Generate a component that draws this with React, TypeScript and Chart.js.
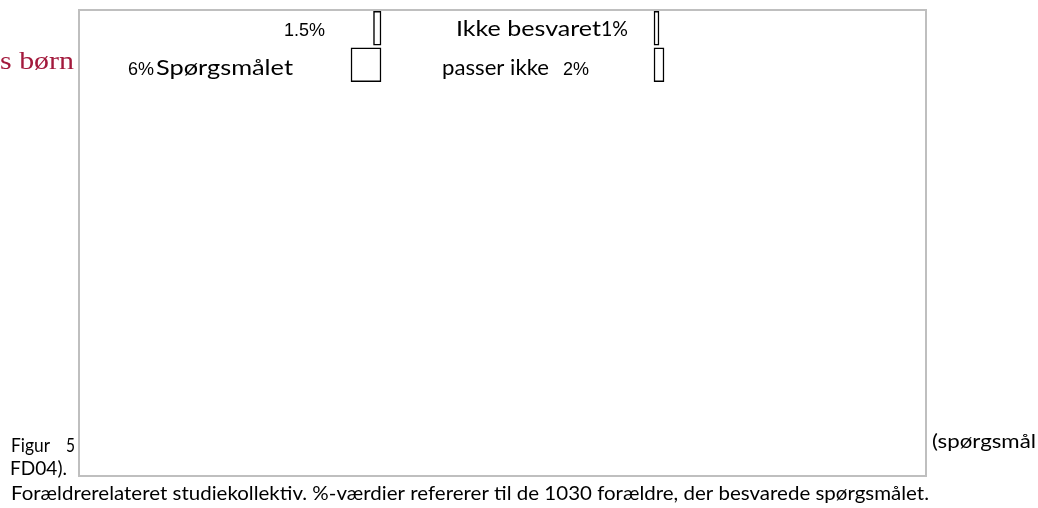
import React, { useEffect, useRef } from 'react';
import { Chart, registerables } from 'chart.js';

Chart.register(...registerables);

// ---- data ----
const rowNames = ['Ikke besvaret', 'Spørgsmålet passer ikke'];
const leftValues = [1.5, 6];               // % (left group)
const rightValues = [1, 2];                // % (right group)
const leftAnchor = 60.2;                   // value-axis position where the left group ends
const rightAnchor = 114.8;                 // value-axis position where the right group starts
const row1Name = 'Ikke besvaret';
const row2NameA = 'Spørgsmålet';
const row2NameB = 'passer ikke';
const sideText = 's børn';
const figLabel = 'Figur';
const figNumber = '5';
const figTail = '(spørgsmål';
const figRef = 'FD04).';
const caption = 'Forældrerelateret studiekollektiv. %-værdier refererer til de 1030 forældre, der besvarede spørgsmålet.';

const pct = (v: number) => `${v}%`;

// ---- styles / layout ----
const W = 1038;
const H = 508;
const CAL = '"Lato", "Noto Sans", sans-serif';
const ARIAL = '"Liberation Sans", Arial, sans-serif';
const SERIF = '"Liberation Serif", "DejaVu Serif", serif';
const PX_PER_UNIT = 5;

type TextItem = { text: string; x: number; y: number; font: string; w?: number; color?: string };

const textItems = (): TextItem[] => [
  { text: pct(leftValues[0]), x: 284, y: 36, font: `18px ${ARIAL}` },
  { text: pct(leftValues[1]), x: 128, y: 75, font: `18px ${ARIAL}` },
  { text: row2NameA, x: 156, y: 75, w: 137, font: `22px ${CAL}` },
  { text: row1Name, x: 456, y: 36, w: 145, font: `22px ${CAL}` },
  { text: pct(rightValues[0]), x: 601, y: 36, w: 27, font: `22px ${CAL}` },
  { text: row2NameB, x: 442, y: 75, w: 107, font: `22px ${CAL}` },
  { text: pct(rightValues[1]), x: 563, y: 75, font: `18px ${ARIAL}` },
  { text: sideText, x: 0, y: 69, w: 74, font: `26px ${SERIF}`, color: '#a3193c' },
  { text: figLabel, x: 11, y: 452, w: 39, font: `20px ${CAL}` },
  { text: figNumber, x: 66, y: 452, w: 9, font: `20px ${CAL}` },
  { text: figRef, x: 10, y: 475, w: 57, font: `20px ${CAL}` },
  { text: figTail, x: 932, y: 448, w: 104, font: `20px ${CAL}` },
  { text: caption, x: 11, y: 500, w: 918, font: `20px ${CAL}` },
];

const overlayPlugin = {
  id: 'overlay',
  beforeDraw(chart: any) {
    const ctx = chart.ctx;
    ctx.save();
    ctx.fillStyle = '#ffffff';
    ctx.fillRect(0, 0, chart.width, chart.height);
    ctx.strokeStyle = '#bfbfbf';
    ctx.lineWidth = 2;
    ctx.strokeRect(79, 10, 847, 466);
    ctx.restore();
  },
  afterDraw(chart: any) {
    const ctx = chart.ctx;
    for (const t of textItems()) {
      ctx.save();
      ctx.font = t.font;
      ctx.fillStyle = t.color || '#000000';
      ctx.textBaseline = 'alphabetic';
      ctx.textAlign = 'left';
      const natural = ctx.measureText(t.text).width;
      ctx.translate(t.x, t.y);
      if (t.w) ctx.scale(t.w / natural, 1);
      ctx.fillText(t.text, 0, 0);
      ctx.restore();
    }
  },
};

export default function App() {
  const ref = useRef<HTMLCanvasElement | null>(null);

  useEffect(() => {
    if (!ref.current) return;
    const padLeft = 80;
    const padRight = W - 925;
    const padTop = 10;
    const padBottom = H - 83;
    const areaW = W - padLeft - padRight;

    const barStyle = {
      backgroundColor: '#ffffff',
      borderColor: '#000000',
      borderWidth: 1.5,
      borderSkipped: false,
      barThickness: 34,
      grouped: false,
    };

    const chart = new Chart(ref.current, {
      type: 'bar',
      data: {
        labels: rowNames,
        datasets: [
          { ...barStyle, data: leftValues.map((v) => [leftAnchor - v, leftAnchor]) as any },
          { ...barStyle, data: rightValues.map((v) => [rightAnchor, rightAnchor + v]) as any },
        ],
      },
      options: {
        indexAxis: 'y',
        responsive: false,
        animation: false,
        devicePixelRatio: 1,
        layout: { padding: { left: padLeft, right: padRight, top: padTop, bottom: padBottom } },
        scales: {
          x: { type: 'linear', display: false, min: 0, max: areaW / PX_PER_UNIT },
          y: { type: 'category', display: false, offset: true },
        },
        plugins: {
          legend: { display: false },
          tooltip: { enabled: false },
          title: { display: false },
        },
      },
      plugins: [overlayPlugin],
    } as any);
    return () => chart.destroy();
  }, []);

  return (
    <div style={{ position: 'absolute', left: 0, top: 0, width: W, height: H, background: '#fff' }}>
      <canvas ref={ref} width={W} height={H} style={{ display: 'block', width: W, height: H }} />
    </div>
  );
}
